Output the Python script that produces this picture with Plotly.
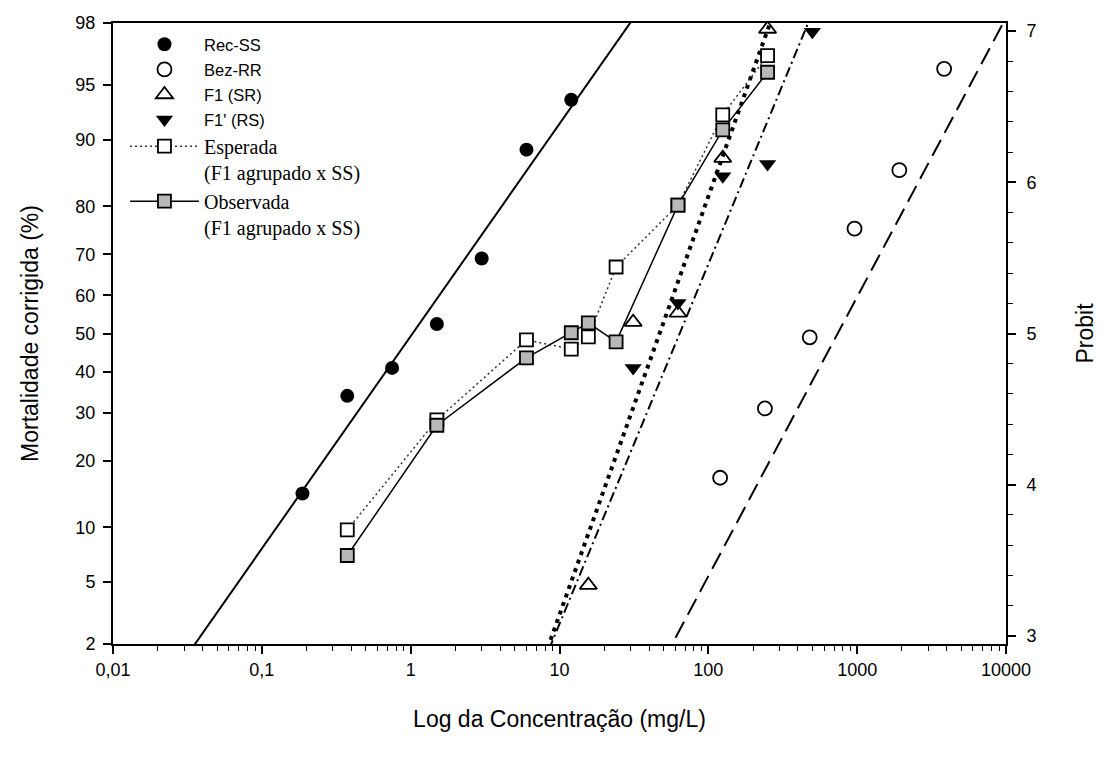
import math
import plotly.graph_objects as go
from statistics import NormalDist

nd = NormalDist()
def probit(p):
    return 5 + nd.inv_cdf(p / 100.0)

# ---------------- data ----------------
rec_dose = [0.1875, 0.375, 0.75, 1.5, 3, 6, 12]
rec_mort = [14.5, 34, 41, 52.5, 69, 88.8, 93.9]

bez_dose = [120, 240, 480, 960, 1920, 3840]
bez_mort = [17, 31, 49, 75.6, 86, 96]

f1_dose = [15.625, 31.25, 62.5, 125, 250]
f1_mort = [4.8, 53, 55.4, 87.7, 97.8]

f1p_dose = [31.25, 62.5, 125, 250, 500]
f1p_mort = [41, 58, 85.1, 86.9, 97.7]

mix_dose = [0.375, 1.5, 6, 12, 15.625, 24, 62.5, 125, 250]
esp_mort = [9.7, 28.4, 48.3, 45.9, 49.1, 67, 80.2, 92.6, 96.7]
obs_mort = [7.1, 27.2, 43.6, 50.2, 52.8, 47.8, 80.2, 91.1, 95.8]

# fitted probit lines: probit = a + b*log10(dose)
fit_a = {"rec": 4.982, "bez": -0.299, "f1": 0.374, "f1p": 0.700}
fit_b = {"rec": 1.405, "bez": 1.847, "f1": 2.766, "f1p": 2.379}

pct_ticks = [2, 5, 10, 20, 30, 40, 50, 60, 70, 80, 90, 95, 98]
probit_ticks = [3, 4, 5, 6, 7]
x_ticks = [0.01, 0.1, 1, 10, 100, 1000, 10000]
x_ticklabels = ["0,01", "0,1", "1", "10", "100", "1000", "10000"]

# ---------------- figure ----------------
ymin, ymax = probit(2), probit(98)
FONT = "Arial, Liberation Sans, sans-serif"
SERIF = "Times New Roman, Liberation Serif, serif"

fig = go.Figure()

line_x = [0.01, 10000]
def fit_line(key):
    return [fit_a[key] + fit_b[key] * math.log10(x) for x in line_x]

fig.add_trace(go.Scatter(x=line_x, y=fit_line("rec"), mode="lines",
                         line=dict(color="black", width=2), showlegend=False, hoverinfo="skip"))
fig.add_trace(go.Scatter(x=line_x, y=fit_line("bez"), mode="lines",
                         line=dict(color="black", width=2, dash="18px,8px"), showlegend=False, hoverinfo="skip"))
fig.add_trace(go.Scatter(x=line_x, y=fit_line("f1"), mode="lines",
                         line=dict(color="black", width=4, dash="4px,5px"), showlegend=False, hoverinfo="skip"))
fig.add_trace(go.Scatter(x=line_x, y=fit_line("f1p"), mode="lines",
                         line=dict(color="black", width=2, dash="10px,4px,2px,4px"), showlegend=False, hoverinfo="skip"))

def sans(t):
    return f"<span style='font-size:16.5px'>{t}</span>"

fig.add_trace(go.Scatter(x=rec_dose, y=[probit(v) for v in rec_mort], mode="markers", name=sans("Rec-SS"),
                         marker=dict(symbol="circle", size=14, color="black")))
fig.add_trace(go.Scatter(x=bez_dose, y=[probit(v) for v in bez_mort], mode="markers", name=sans("Bez-RR"),
                         marker=dict(symbol="circle-open", size=14, color="black", line=dict(width=1.8))))
fig.add_trace(go.Scatter(x=f1_dose, y=[probit(v) for v in f1_mort], mode="markers", name=sans("F1 (SR)"),
                         marker=dict(symbol="triangle-up-open", size=15, color="black", line=dict(width=1.8))))
fig.add_trace(go.Scatter(x=f1p_dose, y=[probit(v) for v in f1p_mort], mode="markers", name=sans("F1' (RS)"),
                         marker=dict(symbol="triangle-down", size=15, color="black")))
fig.add_trace(go.Scatter(x=mix_dose, y=[probit(v) for v in esp_mort], mode="lines+markers",
                         name="Esperada<br>(F1 agrupado x SS)", legend="legend2",
                         line=dict(color="#333333", width=1.5, dash="2px,3px"),
                         marker=dict(symbol="square", size=13, color="white", line=dict(color="black", width=1.8))))
fig.add_trace(go.Scatter(x=mix_dose, y=[probit(v) for v in obs_mort], mode="lines+markers",
                         name="Observada<br>(F1 agrupado x SS)", legend="legend2",
                         line=dict(color="black", width=1.5),
                         marker=dict(symbol="square", size=13, color="#b8b8b8", line=dict(color="black", width=1.8))))

# invisible trace to activate right axis
fig.add_trace(go.Scatter(x=[1], y=[5], yaxis="y2", mode="markers", marker=dict(opacity=0),
                         showlegend=False, hoverinfo="skip"))

fig.update_layout(
    width=1098, height=751,
    margin=dict(l=105, r=100, t=15, b=115),
    paper_bgcolor="white", plot_bgcolor="white",
    font=dict(family=FONT, size=16, color="black"),
    xaxis=dict(type="log", range=[-2, 4], tickvals=x_ticks, ticktext=x_ticklabels,
               ticks="outside", ticklen=8, tickwidth=1.5, tickcolor="black",
               minor=dict(tickvals=[m * 10 ** e for e in range(-2, 4) for m in range(2, 10)],
                          ticks="outside", ticklen=5, tickwidth=1.2, tickcolor="black"),
               showline=True, linewidth=2, linecolor="black", mirror=True,
               showgrid=False, zeroline=False, automargin=False,
               title=dict(text="Log da Concentração (mg/L)", font=dict(size=23), standoff=32),
               tickfont=dict(size=18)),
    yaxis=dict(range=[ymin, ymax], tickvals=[probit(p) for p in pct_ticks],
               ticktext=[str(p) for p in pct_ticks],
               ticks="outside", ticklen=8, tickwidth=1.5, tickcolor="black", ticklabelstandoff=4,
               showline=True, linewidth=2, linecolor="black",
               showgrid=False, zeroline=False, automargin=False,
               title=dict(text="Mortalidade corrigida (%)", font=dict(size=23), standoff=30),
               tickfont=dict(size=18)),
    yaxis2=dict(range=[ymin, ymax], overlaying="y", side="right",
                tickvals=probit_ticks, ticks="outside", ticklen=8, tickwidth=1.5, tickcolor="black",
                ticklabelstandoff=7,
                minor=dict(dtick=0.2, tick0=3, ticks="outside", ticklen=5, tickwidth=1.2, tickcolor="black"),
                showline=True, linewidth=2, linecolor="black",
                showgrid=False, zeroline=False, automargin=False,
                title=dict(text="Probit", font=dict(size=23), standoff=41),
                tickfont=dict(size=18)),
    legend=dict(x=0.0134, y=0.994, xanchor="left", yanchor="top", itemwidth=69,
                bgcolor="rgba(0,0,0,0)", font=dict(family=FONT, size=17),
                tracegroupgap=0),
    legend2=dict(x=0.0134, y=0.833, xanchor="left", yanchor="top", itemwidth=69,
                 bgcolor="rgba(0,0,0,0)", font=dict(family=SERIF, size=20),
                 valign="top", tracegroupgap=0),
    showlegend=True,
)

fig.write_html("out.html")
